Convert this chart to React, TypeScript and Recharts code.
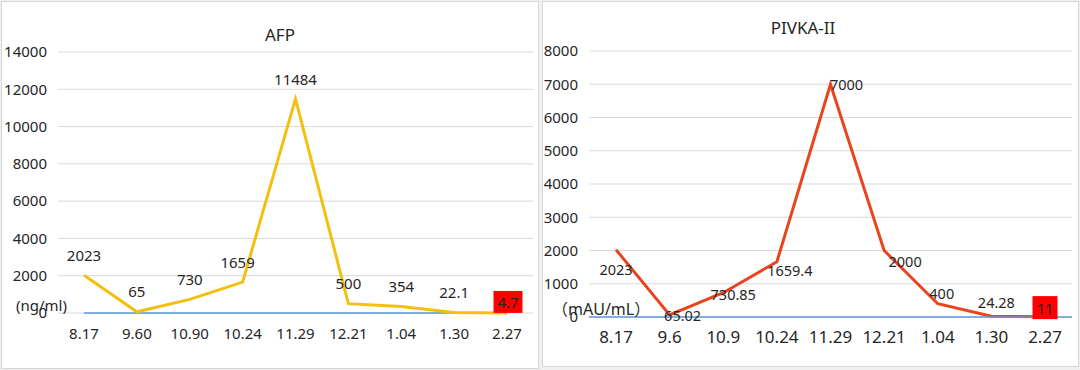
import React from 'react';
import { LineChart, Line, XAxis, YAxis, CartesianGrid, ReferenceLine } from 'recharts';

const afpDates = ['8.17', '9.60', '10.90', '10.24', '11.29', '12.21', '1.04', '1.30', '2.27'];
const afpValues = [2023, 65, 730, 1659, 11484, 500, 354, 22.1, 4.7];
const afpTicks = [0, 2000, 4000, 6000, 8000, 10000, 12000, 14000];

const pivkaDates = ['8.17', '9.6', '10.9', '10.24', '11.29', '12.21', '1.04', '1.30', '2.27'];
const pivkaValues = [2023, 65.02, 730.85, 1659.4, 7000, 2000, 400, 24.28, 11];
const pivkaTicks = [0, 1000, 2000, 3000, 4000, 5000, 6000, 7000, 8000];

const afpData = afpDates.map((date, i) => ({ date, value: afpValues[i] }));
const pivkaData = pivkaDates.map((date, i) => ({ date, value: pivkaValues[i] }));

// label placement (dx, dy from the point), like the hand-moved Excel labels
const afpLabelOffsets = [[0, -20], [0, -21], [0, -20], [-5, -20], [0, -20], [0, -21], [0, -20], [0, -21], [1, -11]];
const pivkaLabelOffsets = [[0, 19], [13, 0], [10, 1], [13, 8], [16, 0], [21, 10], [4, -11], [5, -14], [0, -9]];

const FONT = '"Noto Sans", "Noto Sans CJK SC", sans-serif';
const TEXT = '#262626';

const makeLabel = (offsets: number[][], boxIndex: number, fontSize: number, boxW: number, boxH: number) =>
    (props: any) => {
        const { x, y, value, index } = props;
        const o = offsets[index] || [0, 0];
        const cx = x + o[0];
        const cy = y + o[1];
        if (index === boxIndex) {
            return (
                <g>
                    <rect x={cx - boxW / 2} y={cy - boxH / 2} width={boxW} height={boxH} fill="#FF0000" />
                    <text x={cx} y={cy} textAnchor="middle" dominantBaseline="central" fontSize={fontSize} fill={TEXT} fontFamily={FONT}>
                        {value}
                    </text>
                </g>
            );
        }
        return (
            <text x={cx} y={cy} textAnchor="middle" dominantBaseline="central" fontSize={fontSize} fill={TEXT} fontFamily={FONT}>
                {value}
            </text>
        );
    };

const panel: React.CSSProperties = {
    position: 'absolute',
    background: '#ffffff',
    border: '1px solid #d6d6d6',
};

const App: React.FC = () => {
    return (
        <div style={{ position: 'relative', width: 1080, height: 370, background: '#f0f0f0', fontFamily: FONT, color: TEXT }}>
            <style>{'body{margin:0}'}</style>
            <div style={{ ...panel, left: 1, top: 1, width: 536, height: 366 }} />
            <div style={{ ...panel, left: 542, top: 1, width: 535, height: 364 }} />

            {/* AFP */}
            <div style={{ position: 'absolute', left: 0, top: 0 }}>
                <LineChart width={540} height={370} data={afpData} margin={{ top: 52, right: 7, bottom: 27, left: 0 }}>
                    <CartesianGrid vertical={false} stroke="#d9d9d9" />
                    <XAxis
                        dataKey="date"
                        axisLine={false}
                        tickLine={false}
                        height={30}
                        tickMargin={9}
                        interval={0}
                        padding={{ left: 26, right: 26 }}
                        tick={{ fontSize: 15, fill: TEXT, fontFamily: FONT }}
                    />
                    <YAxis
                        domain={[0, 14000]}
                        ticks={afpTicks}
                        interval={0}
                        width={58}
                        axisLine={false}
                        tickLine={false}
                        tickMargin={5}
                        tick={{ fontSize: 15, fill: TEXT, fontFamily: FONT }}
                    />
                    <ReferenceLine
                        segment={[{ x: afpDates[0], y: 0 }, { x: afpDates[afpDates.length - 1], y: 0 }]}
                        stroke="#5B9BD5"
                        strokeWidth={1.5}
                    />
                    <Line
                        type="linear"
                        dataKey="value"
                        stroke="#F4C00F"
                        strokeWidth={3}
                        dot={false}
                        isAnimationActive={false}
                        label={makeLabel(afpLabelOffsets, 8, 15, 29, 22)}
                    />
                </LineChart>
            </div>
            <div style={{ position: 'absolute', left: 0, width: 560, top: 23, textAlign: 'center', fontSize: 17 }}>AFP</div>
            <div style={{ position: 'absolute', left: 16, top: 295, fontSize: 15, lineHeight: '20px' }}>(ng/ml)</div>

            {/* PIVKA-II */}
            <div style={{ position: 'absolute', left: 540, top: 0 }}>
                <LineChart width={540} height={370} data={pivkaData} margin={{ top: 51, right: 8, bottom: 23, left: 0 }}>
                    <CartesianGrid vertical={false} stroke="#d9d9d9" />
                    <XAxis
                        dataKey="date"
                        axisLine={{ stroke: '#5B9BD5', strokeWidth: 1.5 }}
                        tickLine={false}
                        height={30}
                        tickMargin={8}
                        interval={0}
                        padding={{ left: 27, right: 27 }}
                        tick={{ fontSize: 17, fill: TEXT, fontFamily: FONT }}
                    />
                    <YAxis
                        domain={[0, 8000]}
                        ticks={pivkaTicks}
                        interval={0}
                        width={49}
                        axisLine={false}
                        tickLine={false}
                        tickMargin={5}
                        tick={{ fontSize: 15, fill: TEXT, fontFamily: FONT }}
                    />
                    <Line
                        type="linear"
                        dataKey="value"
                        stroke="#E8451E"
                        strokeWidth={3}
                        dot={false}
                        isAnimationActive={false}
                        label={makeLabel(pivkaLabelOffsets, 8, 14.5, 25, 23)}
                    />
                </LineChart>
            </div>
            <div style={{ position: 'absolute', left: 540, width: 526, top: 16, textAlign: 'center', fontSize: 17 }}>PIVKA-II</div>
            <div style={{ position: 'absolute', left: 552, top: 298, fontSize: 16, lineHeight: '22px' }}>（mAU/mL）</div>
        </div>
    );
};

export default App;
